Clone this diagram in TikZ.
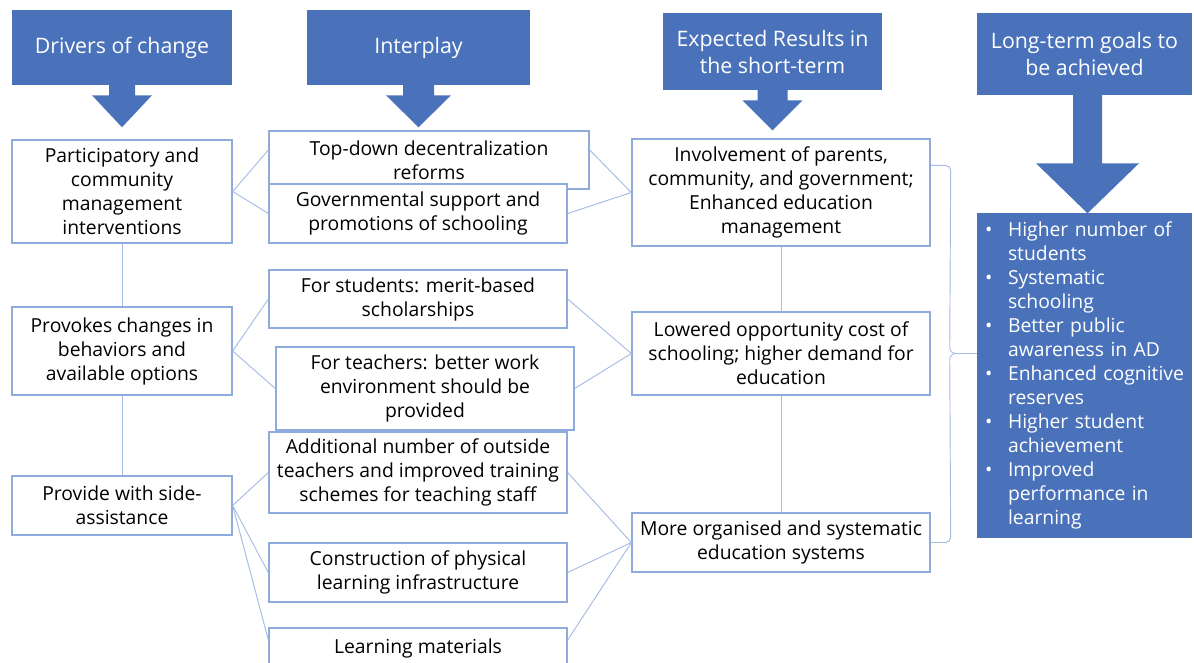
\documentclass[tikz,border=0pt]{standalone}
\usepackage{fontspec}
\setmainfont{Open Sans}
\usetikzlibrary{calc}
\definecolor{headblue}{RGB}{74,114,186}
\definecolor{edgeblue}{RGB}{143,170,220}
\definecolor{linkblue}{RGB}{165,188,228}
\tikzset{%
  % Specifications for style of nodes:
            base/.style = {rectangle, inner sep=0pt, align=center,
                           font=\fontsize{14.5}{18}\selectfont},
       headbox/.style = {base, fill=headblue, text=white,
                           font=\fontsize{16}{20.25}\selectfont},
      whitebox/.style = {base, draw=edgeblue, line width=1pt, fill=white},
      drivebox/.style = {whitebox, minimum width=165pt},
      interbox/.style = {whitebox, minimum width=223.5pt},
       goalbox/.style = {base, fill=headblue, text=white, align=left,
                           inner xsep=6pt, text width=149.25pt},
          link/.style = {draw=linkblue, line width=0.7pt},
}

\begin{document}
\begin{tikzpicture}[x=0.75pt, y=-0.75pt]
  \useasboundingbox[fill=white] (0,0) rectangle (1194,662);
  % Specification of nodes (position, etc.)

  \node (drivers)		[headbox, minimum width=165pt, minimum height=56.25pt] at (122,47.5) {Drivers of change};
  \node (interplay)		[headbox, minimum width=167.25pt, minimum height=56.25pt] at (418.5,47.5) {Interplay};
  \node (expected)		[headbox, minimum width=164.25pt, minimum height=57.75pt] at (772.5,51.5) {Expected Results in\\the short-term};
  \node (goalshead)		[headbox, minimum width=161.25pt, minimum height=61.5pt] at (1084.5,54) {Long-term goals to\\be achieved};

  \node (participatory)	[drivebox, minimum height=77.25pt] at (122,191.5) {Participatory and\\community\\management\\interventions};
  \node (provokes)		[drivebox, minimum height=66pt] at (122,351) {Provokes changes in\\behaviors and\\available options};
  \node (sideassist)	[drivebox, minimum height=44.25pt] at (122,505.5) {Provide with side-\\assistance};

  \node (topdown)		[whitebox, minimum width=240pt, minimum height=43.5pt] at (429,160) {Top-down decentralization\\reforms};
  \node (governmental)	[interbox, minimum height=44.25pt] at (418,213.5) {Governmental support and\\promotions of schooling};
  \node (students)		[interbox, minimum height=43.5pt] at (418,299) {For students: merit-based\\scholarships};
  \node (teachers)		[interbox, minimum height=62.25pt] at (425,388.5) {For teachers: better work\\environment should be\\provided};
  \node (outside)		[interbox, minimum height=60.75pt] at (418,472.5) {Additional number of outside\\teachers and improved training\\schemes for teaching staff};
  \node (construction)	[interbox, minimum height=44.25pt] at (418,572.5) {Construction of physical\\learning infrastructure};
  \node (materials)		[interbox, minimum height=30pt] at (418,648) {Learning materials};

  \node (involvement)	[interbox, minimum height=80.25pt] at (781,192.5) {Involvement of parents,\\community, and government;\\Enhanced education\\management};
  \node (lowered)		[interbox, minimum height=62.25pt] at (781,353.5) {Lowered opportunity cost of\\schooling; higher demand for\\education};
  \node (organised)		[interbox, minimum height=44.25pt] at (781,542.5) {More organised and systematic\\education systems};

  \node (goals)			[goalbox, minimum height=243.75pt] at (1084.5,375.5) {\noindent
    \begin{tabular}{@{}p{17.25pt}@{}l@{}}
    \textbullet & Higher number of\\
                & students\\
    \textbullet & Systematic\\
                & schooling\\
    \textbullet & Better public\\
                & awareness in AD\\
    \textbullet & Enhanced cognitive\\
                & reserves\\
    \textbullet & Higher student\\
                & achievement\\
    \textbullet & Improved\\
                & performance in\\
                & learning
    \end{tabular}};

  % header arrows
  \fill[headblue]	($(drivers.south)+(-13,-1)$) -- ++(0,11) -- ++(-17,0) -- ++(30,32) -- ++(30,-32) -- ++(-17,0) -- ++(0,-11) -- cycle;
  \fill[headblue]	($(interplay.south)+(-15.5,-1)$) -- ++(0,11) -- ++(-17,0) -- ++(32.5,32) -- ++(32.5,-32) -- ++(-17,0) -- ++(0,-11) -- cycle;
  \fill[headblue]	($(expected.south)+(-15,-1)$) -- ++(0,11) -- ++(-15,0) -- ++(30,30) -- ++(30,-30) -- ++(-15,0) -- ++(0,-11) -- cycle;
  \fill[headblue]	($(goalshead.south)+(-11.5,-1)$) -- ++(0,69) -- ++(-37,0) -- ++(51.5,50) -- ++(51.5,-50) -- ++(-37,0) -- ++(0,-69) -- cycle;

  \draw[link]		(participatory.east) -- ([yshift=7.5pt]topdown.west);
  \draw[link]		(participatory.east) -- (governmental.west);
  \draw[link]		(participatory) -- (provokes);
  \draw[link]		(provokes) -- (sideassist);
  \draw[link]		(provokes.east) -- (students.west);
  \draw[link]		(provokes.east) -- (teachers.west);
  \draw[link]		(sideassist.east) -- (outside.west);
  \draw[link]		(sideassist.east) -- (construction.west);
  \draw[link]		(sideassist.east) -- ([yshift=6pt]materials.west);

  \draw[link]		([yshift=7.5pt]topdown.east) -- (involvement.west);
  \draw[link]		(governmental.east) -- (involvement.west);
  \draw[link]		(students.east) -- (lowered.west);
  \draw[link]		(teachers.east) -- (lowered.west);
  \draw[link]		(outside.east) -- (organised.west);
  \draw[link]		(construction.east) -- (organised.west);
  \draw[link]		([yshift=6pt]materials.east) -- (organised.west);
  \draw[link]		(involvement) -- (lowered);
  \draw[link]		(lowered) -- (organised);

  % brace towards the goals
  \coordinate (bracetop) at ($(involvement.north east)+(0,27)$);
  \coordinate (bracetip) at (goals.west |- lowered.east);
  \coordinate (bracebot) at (organised.east);
  \draw[link]		(bracetop) -- ++(15,0) to[out=0,in=90] ++(5,5) -- ($(bracetip)+(-27,-6)$) to[out=-90,in=180] ($(bracetip)+(-21,0)$) -- (bracetip);
  \draw[link]		($(bracetip)+(-21,0)$) to[out=180,in=90] ($(bracetip)+(-27,6)$) -- ($(bracebot)+(20,-5)$) to[out=-90,in=0] ++(-5,5) -- (bracebot);

\end{tikzpicture}
\end{document}
